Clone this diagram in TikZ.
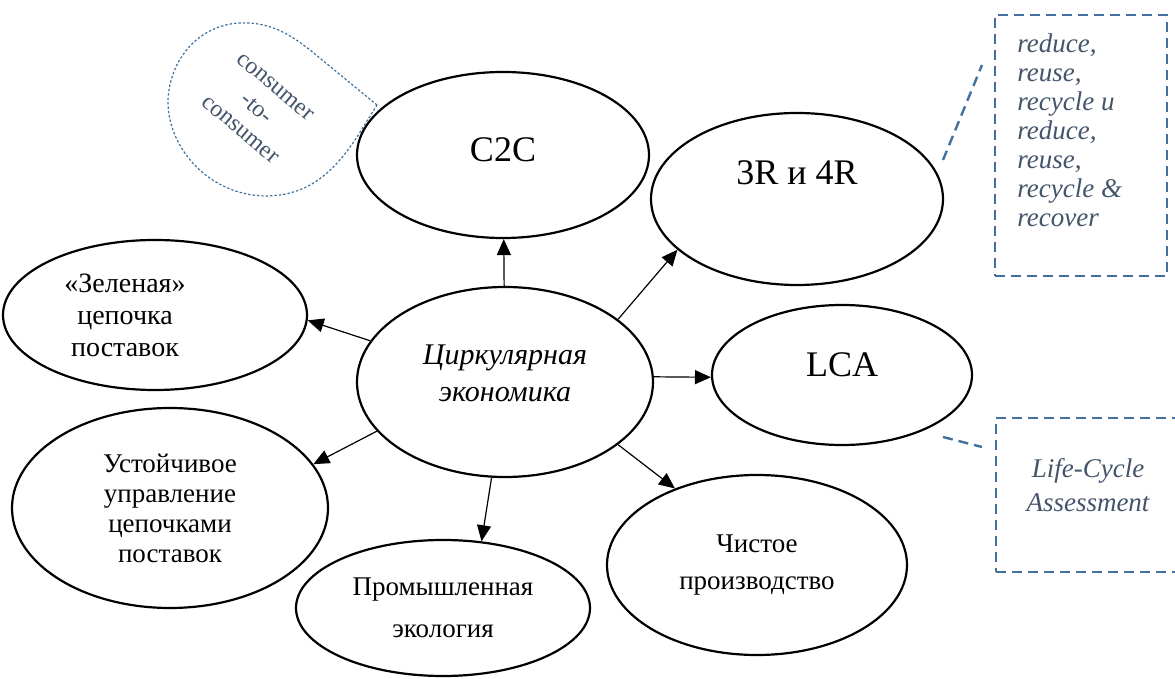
\documentclass[tikz,border=0pt]{standalone}
\usepackage{fontspec}
\setmainfont{Liberation Serif}
\usetikzlibrary{shapes.geometric,arrows.meta}
\definecolor{notetext}{HTML}{44546A}
\definecolor{noteline}{HTML}{41719C}

\begin{document}
\begin{tikzpicture}[x=0.5pt,y=-0.5pt,
    oval/.style={draw,ellipse,line width=1.1pt,inner sep=0pt},
    lbl/.style={align=center,font=\fontsize{13.5}{15}\selectfont},
    big/.style={font=\fontsize{18}{21}\selectfont},
    arr/.style={-{Triangle[length=8pt,width=7pt]},line width=0.6pt},
    note/.style={draw=noteline,dash pattern=on 5pt off 3pt,line width=1.2pt},
    notetxt/.style={text=notetext,font=\fontsize{13.5}{14.5}\selectfont\itshape},
    bubble/.style={draw=noteline,dash pattern=on 1.2pt off 1pt,line width=0.6pt},
    bubtxt/.style={rotate=-40,text=notetext,font=\fontsize{12}{14}\selectfont}]
  \useasboundingbox (0,0) rectangle (1175,679);
  \clip (0,0) rectangle (1175,679);

  % centre
  \node[oval,minimum width=148pt,minimum height=95pt] (ce) at (505,382) {};
  \node[align=center,font=\fontsize{15}{18.5}\selectfont\itshape] (cetxt) at (505,373)
    {Циркулярная\\экономика};

  % outer ovals
  \node[oval,minimum width=146pt,minimum height=83pt] (c2c) at (503,155) {};
  \node[big] (c2ctxt) at (503,150) {C2C};
  \node[oval,minimum width=146pt,minimum height=86pt] (r34) at (797,199) {};
  \node[big] (r34txt) at (797,173) {3R и 4R};
  \node[oval,minimum width=130pt,minimum height=70pt] (lca) at (842,375) {};
  \node[big] (lcatxt) at (842,365) {LCA};
  \node[oval,minimum width=152pt,minimum height=75pt] (zel) at (155,315) {};
  \node[lbl,font=\fontsize{14}{16}\selectfont] (zeltxt) at (125,315)
    {«Зеленая»\\цепочка\\поставок};
  \node[oval,lbl,minimum width=158pt,minimum height=100pt] (ust) at (170,508)
    {Устойчивое\\управление\\цепочками\\поставок};
  \node[oval,lbl,minimum width=147pt,minimum height=68pt,
        font=\fontsize{13.5}{21}\selectfont] (prom) at (443,608)
    {Промышленная\\экология};
  \node[oval,lbl,minimum width=150pt,minimum height=90pt,
        font=\fontsize{13.5}{18.5}\selectfont] (chist) at (757,565)
    {Чистое\\производство};

  % arrows
  \draw[arr] (ce) -- (c2c);
  \draw[arr] (ce.29) -- (r34.203);
  \draw[arr] (ce.2) -- (lca.181);
  \draw[arr] (ce.163) -- (zel.-2);
  \draw[arr] (ce.201) -- (ust.17);
  \draw[arr] (ce.262) -- (prom.60);
  \draw[arr] (ce.331) -- (chist.137);

  % notes
  \node[note,inner sep=0pt,minimum width=86pt,minimum height=130.5pt] (rnote) at (1081,145.5) {};
  \node[notetxt,align=left,anchor=north west,inner sep=0pt] (rnotetxt) at (1017,33)
    {reduce,\\reuse,\\recycle u\\reduce,\\reuse,\\recycle \&\\recover};
  \coordinate (rn1) at (943,160);
  \coordinate (rn2) at (982,65);
  \draw[note] (rn1) -- (rn2);

  \node[note,inner sep=0pt,minimum width=92pt,minimum height=77pt] (lnote) at (1088,495) {};
  \node[notetxt,align=center,font=\fontsize{13.5}{17}\selectfont\itshape] (lnotetxt) at (1088,485)
    {Life-Cycle\\Assessment};
  \coordinate (ln1) at (943,437);
  \coordinate (ln2) at (982,447);
  \draw[note] (ln1) -- (ln2);

  % bubble
  \coordinate (tip) at (377,105);
  \draw[bubble] (tip) -- (310,50) .. controls (285,30) and (265,22) .. (240,23)
    .. controls (195,25) and (167,65) .. (168,105)
    .. controls (170,150) and (210,195) .. (265,196)
    .. controls (310,196) and (335,170) .. (357,137) -- cycle;
  \node[bubtxt] (cons1) at (275,87) {consumer};
  \node[bubtxt] (cons2) at (257,108) {-to-};
  \node[bubtxt] (cons3) at (240,130) {consumer};
\end{tikzpicture}
\end{document}
